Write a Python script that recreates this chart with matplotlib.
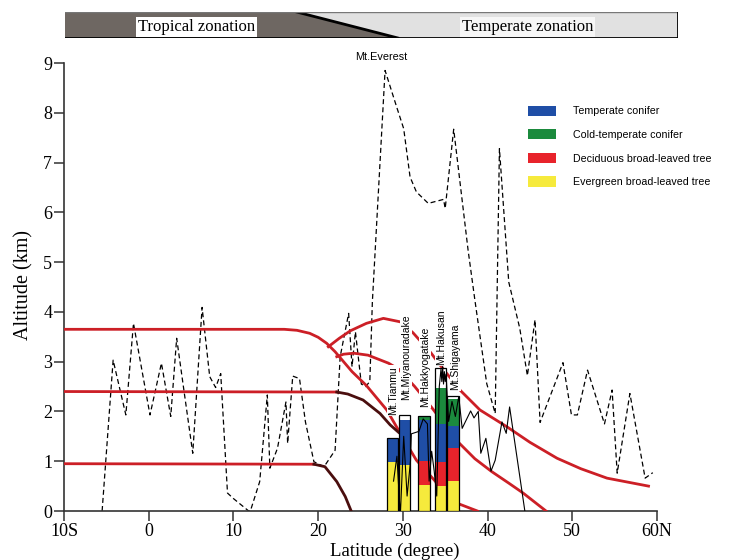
import numpy as np
import matplotlib
matplotlib.use("Agg")
import matplotlib.pyplot as plt
from matplotlib.patches import Patch, Polygon, Rectangle

# ---- data ----
# maximum altitude profile (dashed)
prof_lat = [-5.5, -4.2, -2.7, -1.8, 0.15, 1.5, 2.6, 3.3, 4.2, 5.2, 6.3, 7.2, 7.9, 8.5,
            9.3, 10.0, 11.8, 12.0, 13.1, 14.0, 14.3, 15.2, 16.2, 16.4, 17.0, 17.8, 18.5,
            19.5, 20.7, 22.0, 22.6, 23.6, 24.0, 24.4, 25.1, 25.6, 26.1, 26.4, 27.9,
            29.3, 30.1, 30.85, 31.6, 33.0, 34.8, 35.0, 36.0, 37.7, 38.5, 39.9, 40.9,
            41.4, 42.5, 43.8, 44.7, 45.6, 46.2, 48.9, 49.9, 50.6, 51.8, 53.8, 54.7,
            55.3, 56.8, 58.6, 59.5]
prof_alt = [0.0, 3.03, 1.93, 3.77, 1.93, 2.97, 1.9, 3.47, 2.37, 1.16, 4.09, 2.7, 2.48, 2.76,
            0.36, 0.25, 0.0, 0.0, 0.59, 2.33, 0.86, 1.26, 2.19, 1.36, 2.71, 2.66, 1.79,
            0.99, 0.89, 1.22, 3.1, 3.97, 2.9, 3.6, 2.55, 2.5, 2.6, 4.2, 8.85,
            8.1, 7.68, 6.71, 6.41, 6.18, 6.26, 6.08, 7.67, 5.24, 4.24, 2.56, 1.96,
            7.28, 4.6, 3.67, 2.72, 3.84, 1.78, 2.98, 1.93, 1.93, 2.83, 1.75, 2.43,
            0.76, 2.36, 0.66, 0.77]

# second (solid) profile
sol_lat = [28.9, 29.3, 29.7, 30.1, 30.5, 30.9, 31.0, 31.9, 32.4, 32.9, 33.1, 33.4, 33.7,
           34.0, 34.3, 34.5, 34.6, 34.7, 34.8, 34.9, 35.0, 35.1, 35.4, 35.8, 36.2, 36.6,
           37.0, 38.0, 38.4, 38.9, 39.2, 39.8, 40.4, 40.9, 41.7, 42.2, 42.6, 44.4]
sol_alt = [0.6, 1.1, -0.1, 1.5, 0.3, 1.0, 1.55, 1.6, 1.85, 1.75, 0.6, 1.2, 0.8,
           0.3, 2.5, 2.85, 2.6, 2.9, 2.55, 2.8, 2.6, 2.75, 1.8, 2.2, 1.9, 2.3,
           1.66, 2.01, 1.87, 2.0, 1.16, 1.46, 0.8, 1.02, 1.79, 1.56, 2.09, 0.0]

# zonation boundaries (red curves)
a_lat = [-10, 16, 17.5, 19, 20, 21, 22, 23, 24, 25.7, 28.1, 29.7, 31.6, 34.4, 36.5, 38.8]
a_alt = [3.65, 3.65, 3.63, 3.57, 3.49, 3.37, 3.2, 3.0, 2.8, 2.52, 2.03, 1.56, 1.02, 0.49, 0.15, 0.0]

c1_lat = [21.2, 22.5, 23.8, 25.7, 27.7, 29.7, 31.2, 33.3, 34.4, 36.8, 39.1, 42.3, 45.0,
          48.2, 51.0, 54.1, 59.0]
c1_alt = [3.3, 3.47, 3.62, 3.77, 3.87, 3.8, 3.58, 3.18, 2.93, 2.42, 2.03, 1.69, 1.38,
          1.06, 0.85, 0.66, 0.5]

c2_lat = [22.2, 23.0, 24.2, 25.9, 28.3, 29.5, 31.4, 33.4, 35.0, 36.5, 38.5, 40.5, 42.5,
          44.2, 46.9]
c2_alt = [3.1, 3.15, 3.17, 3.13, 2.97, 2.85, 2.5, 2.08, 1.72, 1.39, 1.05, 0.79, 0.56,
          0.36, 0.0]

b_lat = [-10, 22.2]
b_alt = [2.4, 2.39]
b2_lat = [22.2, 23.5, 25.3, 27.3, 28.5, 29.5]
b2_alt = [2.39, 2.35, 2.23, 1.96, 1.73, 1.58]

d_lat = [-10, 19.5]
d_alt = [0.95, 0.94]
d2_lat = [19.5, 20.8, 22.2, 23.2, 23.9]
d2_alt = [0.94, 0.89, 0.59, 0.29, 0.0]

# vegetation zones of the mountains (upper limits, km)
mountains = ["Mt.Tianmu", "Mt.Miyanouradake", "Mt.Hakkyogatake", "Mt.Hakusan", "Mt.Shigayama"]
mt_lat = [28.8, 30.15, 32.5, 34.4, 35.9]
mt_width = [1.25, 1.3, 1.35, 1.3, 1.35]
top_evergreen = [0.99, 0.92, 0.52, 0.5, 0.61]
top_deciduous = [0.99, 0.92, 1.01, 0.98, 1.26]
top_temperate = [1.46, 1.83, 1.83, 1.74, 1.71]
top_coldtemp = [1.46, 1.83, 1.91, 2.47, 2.26]
top_summit = [1.46, 1.93, 1.91, 2.87, 2.32]
label_lat = [28.8, 30.4, 32.6, 34.5, 36.2]
label_alt = [1.93, 2.23, 2.09, 2.93, 2.43]

legend_labels = ["Temperate conifer", "Cold-temperate conifer",
                 "Deciduous broad-leaved tree", "Evergreen broad-leaved tree"]

c_blue = "#1f4ea6"
c_green = "#1b8a3d"
c_red = "#e8232b"
c_yellow = "#f6ea3c"
red_line = "#cc1f26"
dark_line = "#4a0e0e"

serif = "Liberation Serif"
sans = "Liberation Sans"

fig = plt.figure(figsize=(7.35, 5.6), dpi=100)
ax = fig.add_axes([64/735, 49/560, 593/735, 448/560])

# profiles
ax.plot(prof_lat, prof_alt, color="black", lw=0.9, ls=(0, (4, 2.5)), zorder=2)

# boundaries
ax.plot(a_lat, a_alt, color=red_line, lw=2, zorder=3)
ax.plot(c1_lat, c1_alt, color=red_line, lw=2, zorder=3)
ax.plot(c2_lat, c2_alt, color=red_line, lw=2, zorder=3)
ax.plot(b_lat, b_alt, color=red_line, lw=2, zorder=3)
ax.plot(b2_lat, b2_alt, color=dark_line, lw=2, zorder=3)
ax.plot(d_lat, d_alt, color=red_line, lw=2, zorder=3)
ax.plot(d2_lat, d2_alt, color=dark_line, lw=2, zorder=3)

# stacked vegetation bars
ev = np.array(top_evergreen)
de = np.array(top_deciduous)
te = np.array(top_temperate)
co = np.array(top_coldtemp)
su = np.array(top_summit)
kw = dict(width=mt_width, edgecolor="none", zorder=4)
ax.bar(mt_lat, ev, bottom=0, color=c_yellow, **kw)
ax.bar(mt_lat, de - ev, bottom=ev, color=c_red, **kw)
ax.bar(mt_lat, te - de, bottom=de, color=c_blue, **kw)
ax.bar(mt_lat, co - te, bottom=te, color=c_green, **kw)
ax.bar(mt_lat, su - co, bottom=co, color="white", **kw)
ax.bar(mt_lat, su, bottom=0, width=mt_width, fill=False, edgecolor="black", lw=0.9, zorder=5)

ax.plot(sol_lat, sol_alt, color="black", lw=0.8, zorder=6)

# mountain labels
for name, x, y in zip(mountains, label_lat, label_alt):
    ax.text(x, y, name, rotation=90, ha="center", va="bottom", fontsize=7.5,
            family=sans, zorder=7,
            bbox=dict(facecolor="white", edgecolor="none", pad=0.6))
ax.text(27.5, 9.02, "Mt.Everest", ha="center", va="bottom", fontsize=7.8, family=sans,
        clip_on=False)

# legend
handles = [Patch(facecolor=c, edgecolor="none") for c in (c_blue, c_green, c_red, c_yellow)]
leg = ax.legend(handles, legend_labels, loc="upper left", bbox_to_anchor=(0.782, 0.905),
                frameon=False, borderaxespad=0, borderpad=0, handlelength=2.6,
                handleheight=1.1, handletextpad=1.6, labelspacing=1.2,
                prop={"family": sans, "size": 7.7})

ax.set_xlim(-10, 60)
ax.set_ylim(0, 9)
ax.set_xticks(np.arange(-10, 61, 10))
ax.set_xticklabels(["10S", "0", "10", "20", "30", "40", "50", "60N"])
ax.set_yticks(np.arange(0, 10, 1))
for s in ("top", "right"):
    ax.spines[s].set_visible(False)
for s in ("left", "bottom"):
    ax.spines[s].set_color("#333333")
    ax.spines[s].set_linewidth(1.2)
ax.tick_params(direction="out", length=7, width=1.1, color="#333333", pad=1.5)
for lab in ax.get_xticklabels() + ax.get_yticklabels():
    lab.set_family(serif)
    lab.set_fontsize(13)

fig.text(395/735, 0.5/560, "Latitude (degree)", ha="center", va="bottom",
         fontsize=13.5, family=serif)
fig.text(24/735, 1 - 285/560, "Altitude (km)", ha="center", va="center",
         rotation=90, fontsize=14.5, family=serif)

# zonation banner
bax = fig.add_axes([65/735, 1 - 38/560, 613/735, 26/560])
bax.set_xlim(0, 1)
bax.set_ylim(0, 1)
bax.axis("off")
bax.add_patch(Rectangle((0, 0), 1, 1, facecolor="#e1e1e1", edgecolor="none"))
bax.add_patch(Polygon([(0, 0), (0, 1), (0.378, 1), (0.543, 0)], closed=True,
                      facecolor="#6e6762", edgecolor="none"))
bax.plot([0.378, 0.543], [1, 0], color="black", lw=2)
bax.plot([0, 1], [1, 1], color="#777777", lw=1)
bax.plot([0, 1], [0, 0], color="black", lw=2)
bax.plot([1, 1], [0, 1], color="black", lw=2)
bax.text(0.214, 0.42, "Tropical zonation", ha="center", va="center", fontsize=12,
         family=serif, bbox=dict(facecolor="white", edgecolor="none", pad=1.5))
bax.text(0.754, 0.42, "Temperate zonation", ha="center", va="center", fontsize=12,
         family=serif, bbox=dict(facecolor="#f6f6f6", edgecolor="none", pad=1.5))

fig.savefig("out.png", dpi=100)
